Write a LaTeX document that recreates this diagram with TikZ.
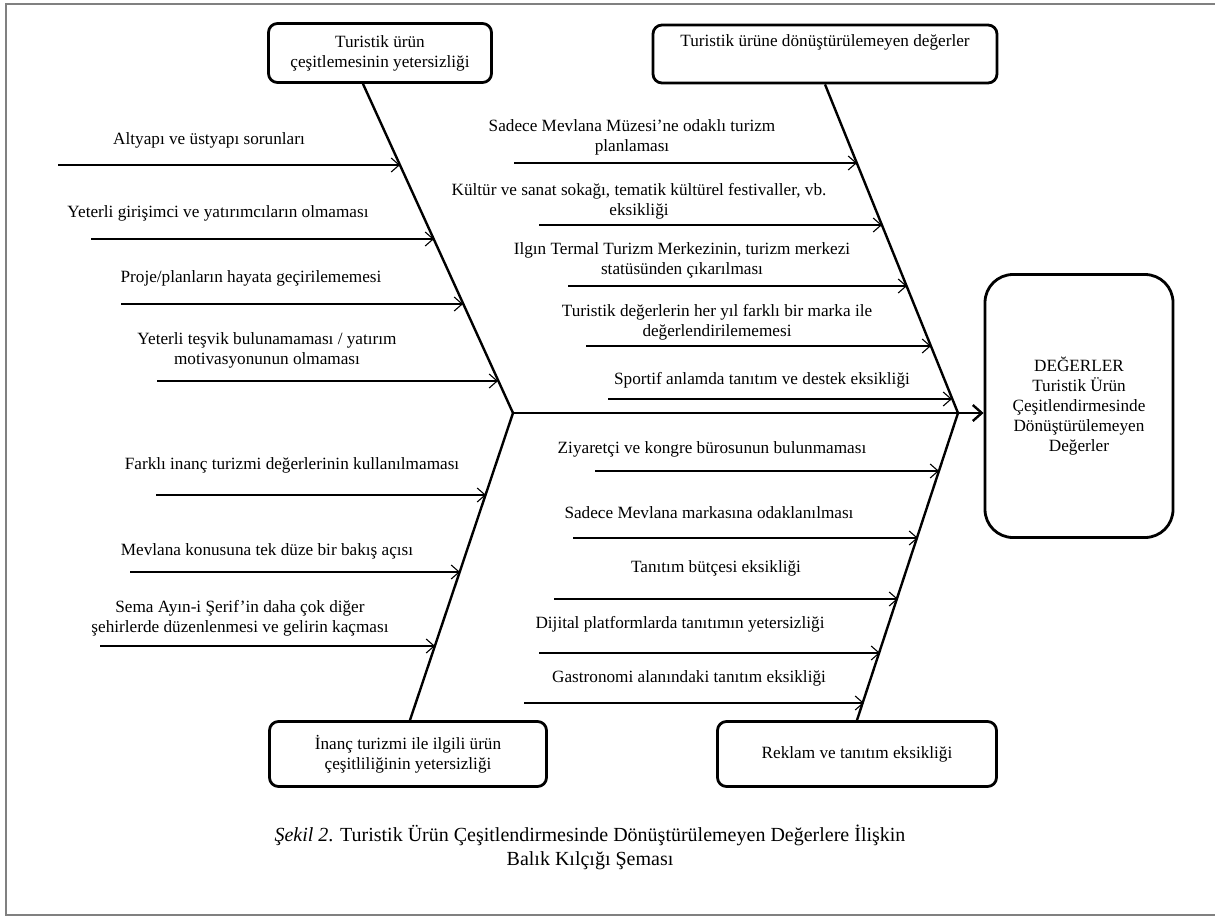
\documentclass[tikz,border=0pt]{standalone}
\usepackage{fontspec}
\setmainfont{Liberation Serif}
\usetikzlibrary{arrows.meta}
\tikzset{
  bone/.style={line width=2.4pt},
  kilcik/.style={line width=1.1pt,-{Straight Barb[length=8pt,width=14pt]}},
  kutu/.style={draw,line width=2.8pt,rounded corners=9pt,align=center,font=\fontsize{17.2}{20}\selectfont},
  yazi/.style={align=center,font=\fontsize{17.2}{20}\selectfont}
}
\begin{document}
\begin{tikzpicture}[x=1pt,y=-1pt]
\useasboundingbox (0,0) rectangle (1215,916);
\draw[line width=2pt,gray] (1215,4) -- (6,4) -- (6,915) -- (1215,915);
\node[kutu,minimum width=223pt,minimum height=59pt] (k1) at (380,53) {Turistik ürün\\çeşitlemesinin yetersizliği};
\node[kutu,minimum width=344pt,minimum height=58pt] (k2) at (825,54) {Turistik ürüne dönüştürülemeyen değerler\\\strut};
\node[kutu,minimum width=277pt,minimum height=65pt] (k3) at (408,754) {İnanç turizmi ile ilgili ürün\\çeşitliliğinin yetersizliği};
\node[kutu,minimum width=279pt,minimum height=65pt] (k4) at (857,754) {Reklam ve tanıtım eksikliği};
\node[kutu,rounded corners=28pt,minimum width=188pt,minimum height=263pt] (k5) at (1079,406) {DEĞERLER\\Turistik Ürün\\Çeşitlendirmesinde\\Dönüştürülemeyen\\Değerler};
\coordinate (bas) at (513,413);
\coordinate (uc) at (958,413);
\draw[bone] ([xshift=-17pt]k1.south) -- (bas) -- ([xshift=2pt]k3.north);
\draw[bone] (k2.south) -- (uc) -- (k4.north);
\draw[bone,-{Straight Barb[length=9pt,width=16pt]}] (bas) -- (k5.west |- bas);
\foreach \xs/\xe/\y/\tx/\ty/\metin [count=\i] in {
  58/400/165/209/140/{Altyapı ve üstyapı sorunları},
  91/434/239/218/213/{Yeterli girişimci ve yatırımcıların olmaması},
  121/463/304/251/278/{Proje/planların hayata geçirilememesi},
  157/498/381/267/350/{Yeterli teşvik bulunamaması / yatırım\\motivasyonunun olmaması},
  514/857/163/632/137/{Sadece Mevlana Müzesi’ne odaklı turizm\\planlaması},
  539/882/225/639/201/{Kültür ve sanat sokağı, tematik kültürel festivaller, vb.\\eksikliği},
  568/907/286/682/260/{Ilgın Termal Turizm Merkezinin, turizm merkezi\\statüsünden çıkarılması},
  586/931/346/717/322/{Turistik değerlerin her yıl farklı bir marka ile\\değerlendirilememesi},
  608/952/399/762/380/{Sportif anlamda tanıtım ve destek eksikliği},
  156/486/495/292/465/{Farklı inanç turizmi değerlerinin kullanılmaması},
  130/460/572/267/551/{Mevlana konusuna tek düze bir bakış açısı},
  100/435/646/240/618/{Sema Ayın-i Şerif’in daha çok diğer\\şehirlerde düzenlenmesi ve gelirin kaçması},
  595/939/471/712/449/{Ziyaretçi ve kongre bürosunun bulunmaması},
  573/918/538/709/513/{Sadece Mevlana markasına odaklanılması},
  554/898/599/716/568/{Tanıtım bütçesi eksikliği},
  539/880/653/680/624/{Dijital platformlarda tanıtımın yetersizliği},
  524/864/703/689/678/{Gastronomi alanındaki tanıtım eksikliği}}{
  \coordinate (s\i) at (\xs,\y);
  \coordinate (e\i) at (\xe,\y);
  \draw[kilcik] (s\i) -- (e\i);
  \node[yazi] (m\i) at (\tx,\ty) {\metin};
}
\node[align=center,font=\fontsize{20}{24}\selectfont] (baslik) at (590,847) {\textit{Şekil 2}. Turistik Ürün Çeşitlendirmesinde Dönüştürülemeyen Değerlere İlişkin\\Balık Kılçığı Şeması};
\end{tikzpicture}
\end{document}
